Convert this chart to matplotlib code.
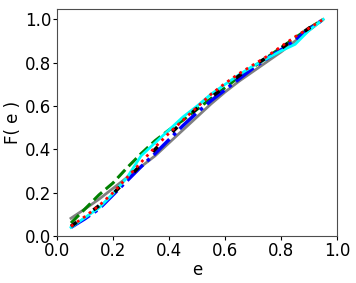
import matplotlib
matplotlib.use('Agg')
import matplotlib.pyplot as plt

e = [0.05, 0.10, 0.15, 0.20, 0.25, 0.30, 0.35, 0.40, 0.45, 0.50,
     0.55, 0.60, 0.65, 0.70, 0.75, 0.80, 0.85, 0.90, 0.95]

f_gray = [0.082, 0.125, 0.17, 0.22, 0.27, 0.32, 0.37, 0.43, 0.49, 0.55,
          0.61, 0.665, 0.715, 0.76, 0.805, 0.85, 0.90, 0.95, 1.0]
f_green = [0.06, 0.125, 0.19, 0.245, 0.315, 0.38, 0.44, 0.49, 0.535, 0.585,
           0.635, 0.685, 0.735, 0.78, 0.825, 0.87, 0.915, 0.96, 1.0]
f_red = [0.045, 0.09, 0.14, 0.20, 0.27, 0.34, 0.41, 0.475, 0.535, 0.595,
         0.655, 0.705, 0.75, 0.79, 0.83, 0.875, 0.92, 0.96, 1.0]
f_blue = [0.04, 0.08, 0.125, 0.19, 0.255, 0.32, 0.38, 0.445, 0.51, 0.57,
          0.625, 0.675, 0.725, 0.775, 0.82, 0.86, 0.905, 0.955, 1.0]
f_black = [0.045, 0.09, 0.14, 0.195, 0.26, 0.33, 0.40, 0.465, 0.53, 0.59,
           0.64, 0.69, 0.74, 0.785, 0.825, 0.865, 0.915, 0.96, 1.0]
f_cyan = [0.04, 0.085, 0.13, 0.195, 0.27, 0.37, 0.43, 0.49, 0.55, 0.60,
          0.655, 0.70, 0.745, 0.785, 0.82, 0.855, 0.885, 0.95, 1.0]

fig = plt.figure(figsize=(3.56, 2.83), dpi=100)
ax = fig.add_axes([0.16, 0.166, 0.787, 0.802])

ax.plot(e, f_gray, '-', color='gray', lw=2)
ax.plot(e, f_green, '--', color='green', lw=2.2)
ax.plot(e, f_blue, '-.', color='blue', lw=2.5)
ax.plot(e, f_cyan, '-', color='cyan', lw=2)
ax.plot(e, f_black, '-.', color='black', lw=2.5, dashes=(2, 6))
ax.plot(e, f_red, ':', color='red', lw=2)

ax.set_xlim(0, 1)
ax.set_ylim(0, None)
ax.set_xlabel('e', fontsize=12, labelpad=1)
ax.set_ylabel('F( e )', fontsize=12, labelpad=2)
ax.tick_params(labelsize=12, length=3, pad=1)
for s in ax.spines.values():
    s.set_color('0.3')

fig.savefig('out.png', dpi=100)
